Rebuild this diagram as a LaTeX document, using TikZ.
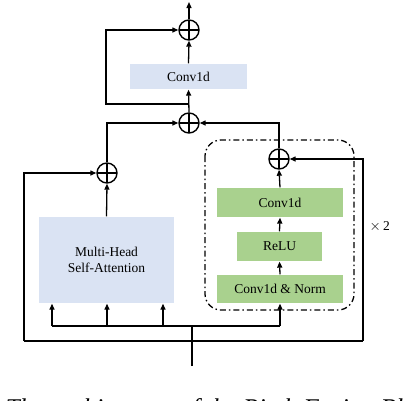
\documentclass[tikz,border=0pt]{standalone}
\usepackage{fontspec}
\setmainfont{Liberation Serif}
\usetikzlibrary{arrows.meta}
\definecolor{lblue}{HTML}{DAE3F3}
\definecolor{lgreen}{HTML}{A9D18E}
\begin{document}
\begin{tikzpicture}[x=1pt,y=-1pt,
  line width=1.3pt,
  arr/.style={-{Triangle[length=6pt,width=5pt]}},
  oplus/.style={circle,draw,line width=1.4pt,minimum size=20pt,inner sep=0pt,
    path picture={\draw[line width=1.1pt] (path picture bounding box.north)--(path picture bounding box.south)
      (path picture bounding box.west)--(path picture bounding box.east);}},
  bbox/.style={draw=none,inner sep=0pt,font=\fontsize{13.5}{16}\selectfont,align=center},
  bluebox/.style={bbox,fill=lblue},
  greenbox/.style={bbox,fill=lgreen},
  dashdotline/.style={line width=1.3pt,dash pattern=on 6pt off 3pt on 1.5pt off 3pt}]
\useasboundingbox (0,0) rectangle (412,400);
% nodes
\node[oplus] (to) at (189,30) {};
\node[bluebox,minimum width=117pt,minimum height=25pt] (cv) at (188.5,76.5) {Conv1d};
\node[oplus] (mo) at (189,123) {};
\node[oplus] (lo) at (107,173) {};
\node[oplus] (io) at (279,159) {};
\node[bluebox,minimum width=135pt,minimum height=86pt] (mh) at (106.5,260) {Multi-Head\\Self-Attention};
\node[greenbox,minimum width=126pt,minimum height=29pt] (gc) at (280,202.5) {Conv1d};
\node[greenbox,minimum width=85pt,minimum height=29pt] (rl) at (279.5,246.5) {ReLU};
\node[greenbox,minimum width=126pt,minimum height=28pt] (cn) at (280,289) {Conv1d \& Norm};
\node[bbox,anchor=west] (x2) at (369,227) {$\times$\,2};
% dash-dot group
\draw[dashdotline,rounded corners=16pt] (205,140) rectangle (354,310);
% coordinates
\coordinate (out) at (189,2);
\coordinate (tb) at (189,104);
\coordinate (tl) at (106,104);
\coordinate (in) at (192,366);
\coordinate (br) at (192,326);
\coordinate (b1) at (52,326);
\coordinate (b2) at (107,326);
\coordinate (b3) at (163,326);
\coordinate (b4) at (280,326);
\coordinate (ll) at (24,341);
\coordinate (lr) at (363,341);
% connectors
\draw[arr] (to.north) -- (out);
\draw[arr] (cv.north) -- (to.south);
\draw[arr] (mo.north) -- (cv.south);
\draw[arr] (tb) -- (tl) |- (to.west);
\draw[arr] (lo.north) |- (mo.west);
\draw[arr] (io.north) |- (mo.east);
\draw[arr] (mh.north) -- (lo.south);
\draw[arr] (gc.north) -- (io.south);
\draw[arr] (rl.north) -- (gc.south);
\draw[arr] (cn.north) -- (rl.south);
\draw (in) -- (br);
\draw (b1) -- (b4);
\draw[arr] (b1) -- (b1 |- mh.south);
\draw[arr] (b2) -- (b2 |- mh.south);
\draw[arr] (b3) -- (b3 |- mh.south);
\draw[arr] (b4) -- (b4 |- cn.south);
\draw (ll) -- (lr);
\draw[arr] (ll) |- (lo.west);
\draw[arr] (lr) |- (io.east);
% caption (cut off by the page edge, as in the reference)
\begin{scope}
\clip (0,0) rectangle (412,400);
\node[anchor=base west,inner sep=0pt,font=\fontsize{25.5}{30}\selectfont\itshape] (cap) at (5,416) {The architecture of the Pitch Fusion Block};
\end{scope}
\end{tikzpicture}
\end{document}
